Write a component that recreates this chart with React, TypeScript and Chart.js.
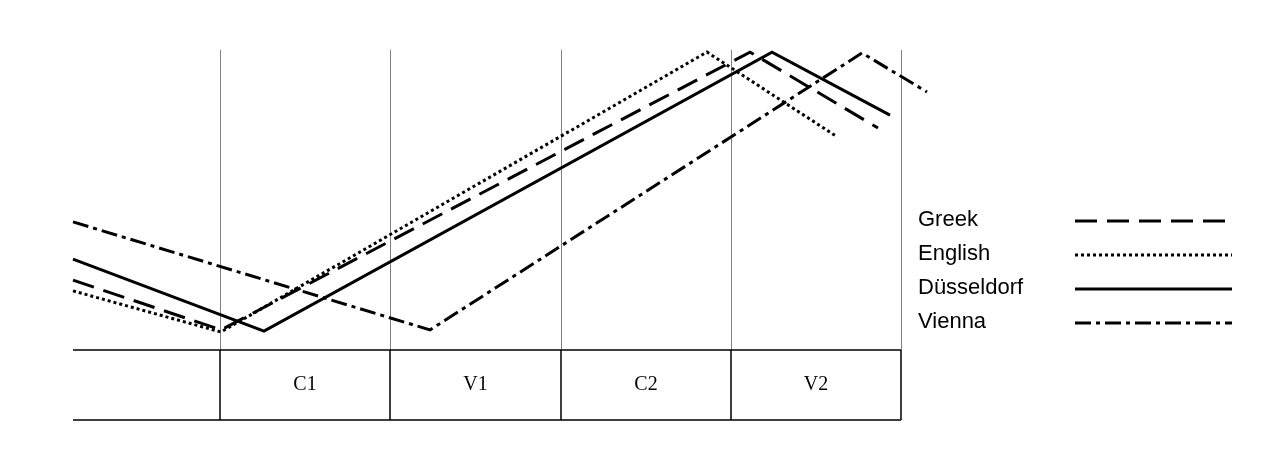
import { useEffect, useRef } from "react"
import { Chart, registerables } from "chart.js"

Chart.register(...registerables)

// x: time from left edge, y: pitch height (0 = table top, 100 = top)
const seriesNames = ["Greek", "English", "Düsseldorf", "Vienna"]
const greekPts = [{ x: 0, y: 23.3 }, { x: 148, y: 6.7 }, { x: 677, y: 99.3 }, { x: 805, y: 74 }]
const englishPts = [{ x: 0, y: 19.7 }, { x: 148, y: 6 }, { x: 634, y: 99.3 }, { x: 763, y: 71.3 }]
const dusseldorfPts = [{ x: 0, y: 30.3 }, { x: 191, y: 6.3 }, { x: 699, y: 99.3 }, { x: 817, y: 78.3 }]
const viennaPts = [{ x: 0, y: 42.7 }, { x: 357, y: 6.7 }, { x: 789, y: 99 }, { x: 854, y: 86 }]
const segmentBounds = [0, 147, 317, 488, 658, 828]
const segmentLabels = ["", "C1", "V1", "C2", "V2"]
const dashes = [[22, 10], [3, 3], [], [16, 5, 4, 5]]

export default function App() {
  const chartRef = useRef<HTMLCanvasElement>(null)

  useEffect(() => {
    if (!chartRef.current) return
    const allPts = [greekPts, englishPts, dusseldorfPts, viennaPts]

    const framePlugin = {
      id: "frame",
      beforeDatasetsDraw(chart: any) {
        const { ctx, scales } = chart
        const x = scales.x, y = scales.y
        const top = y.getPixelForValue(100)
        const bottom = y.getPixelForValue(0)
        ctx.save()
        ctx.strokeStyle = "#808080"
        ctx.lineWidth = 1
        segmentBounds.slice(1).forEach((b) => {
          const px = Math.round(x.getPixelForValue(b)) + 0.5
          ctx.beginPath()
          ctx.moveTo(px, top)
          ctx.lineTo(px, bottom)
          ctx.stroke()
        })
        ctx.restore()
      },
      afterDraw(chart: any) {
        const { ctx, scales } = chart
        const x = scales.x, y = scales.y
        const tTop = y.getPixelForValue(0)
        const tBot = tTop + 70
        const left = x.getPixelForValue(0)
        const right = x.getPixelForValue(828)
        ctx.save()
        ctx.strokeStyle = "#000"
        ctx.lineWidth = 1.5
        ctx.beginPath()
        ctx.moveTo(left, tTop); ctx.lineTo(right, tTop)
        ctx.moveTo(left, tBot); ctx.lineTo(right, tBot)
        segmentBounds.slice(1).forEach((b) => {
          const px = x.getPixelForValue(b)
          ctx.moveTo(px, tTop); ctx.lineTo(px, tBot)
        })
        ctx.stroke()
        ctx.fillStyle = "#000"
        ctx.font = "20px 'Liberation Serif'"
        ctx.textAlign = "center"
        ctx.textBaseline = "middle"
        segmentLabels.forEach((l, i) => {
          const cx = (x.getPixelForValue(segmentBounds[i]) + x.getPixelForValue(segmentBounds[i + 1])) / 2
          ctx.fillText(l, cx, (tTop + tBot) / 2)
        })
        // legend
        ctx.font = "22px 'Liberation Sans'"
        ctx.textAlign = "left"
        ctx.lineWidth = 3
        seriesNames.forEach((n, i) => {
          const ly = 220 + i * 34
          ctx.fillText(n, 918, ly)
          ctx.setLineDash(dashes[i])
          ctx.beginPath()
          ctx.moveTo(1075, ly + 1)
          ctx.lineTo(1232, ly + 1)
          ctx.stroke()
        })
        ctx.restore()
      },
    }

    const chart = new Chart(chartRef.current, {
      type: "line",
      data: {
        datasets: seriesNames.map((n, i) => ({
          label: n,
          data: allPts[i],
          borderColor: "#000",
          borderWidth: 3,
          borderDash: dashes[i],
          pointRadius: 0,
          tension: 0,
          clip: false as any,
        })),
      },
      options: {
        animation: false,
        responsive: true,
        maintainAspectRatio: false,
        layout: { padding: { left: 73, top: 50, right: 383, bottom: 121 } },
        plugins: { legend: { display: false }, tooltip: { enabled: false } },
        scales: {
          x: { type: "linear", min: 0, max: 828, display: false },
          y: { min: 0, max: 100, display: false },
        },
      },
      plugins: [framePlugin],
    })
    return () => chart.destroy()
  }, [])

  return (
    <div style={{ position: "fixed", left: 0, top: 0, width: 1284, height: 471, background: "#fff" }}>
      <canvas ref={chartRef} />
    </div>
  )
}
